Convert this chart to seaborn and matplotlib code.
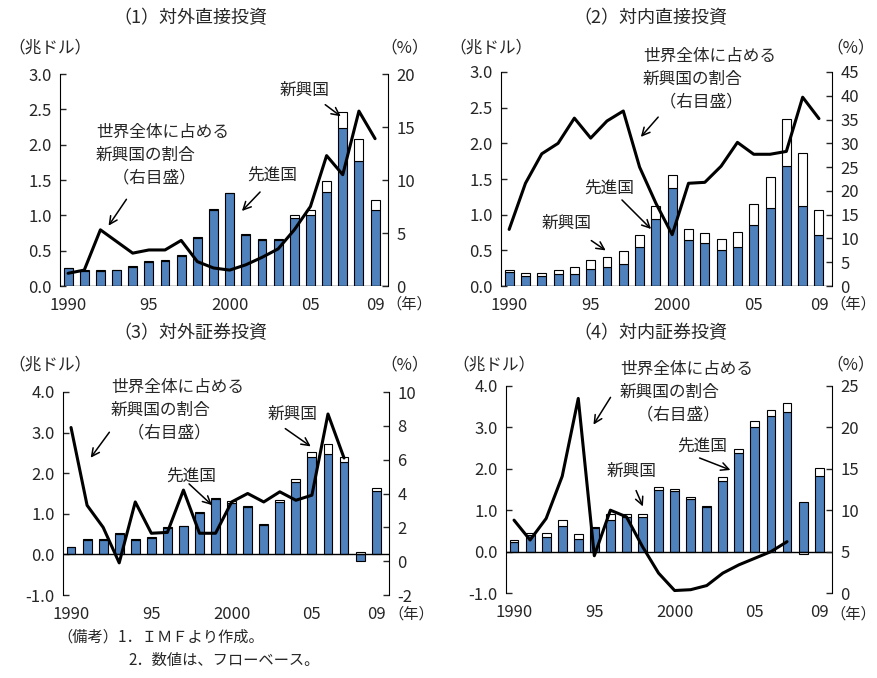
import numpy as np
import matplotlib
matplotlib.use('Agg')
import matplotlib.pyplot as plt
import seaborn as sns

sns.set_style('white')
plt.rcParams['font.family'] = ['Noto Sans CJK JP', 'DejaVu Sans']

# Data, 1990-2009
years = list(range(1990, 2010))
idx = np.arange(len(years))

# (1) outward FDI, trillion USD: advanced / emerging, share of emerging (%)
fdi_out_adv = [0.25, 0.21, 0.21, 0.22, 0.27, 0.34, 0.36, 0.43, 0.68, 1.08, 1.31, 0.72, 0.65, 0.65, 0.96, 1.00, 1.33, 2.23, 1.77, 1.08]
fdi_out_em = [0.01, 0.01, 0.01, 0.01, 0.01, 0.01, 0.01, 0.01, 0.01, 0.01, 0.01, 0.01, 0.01, 0.01, 0.05, 0.07, 0.16, 0.23, 0.31, 0.14]
fdi_out_share = [1.2, 1.5, 5.3, 4.2, 3.1, 3.4, 3.4, 4.3, 2.3, 1.7, 1.5, 2.0, 2.7, 3.5, 5.3, 7.5, 12.3, 10.5, 16.5, 13.9]

# (2) inward FDI
fdi_in_adv = [0.19, 0.14, 0.14, 0.17, 0.17, 0.24, 0.26, 0.31, 0.54, 0.94, 1.37, 0.64, 0.60, 0.50, 0.54, 0.85, 1.10, 1.68, 1.12, 0.71]
fdi_in_em = [0.04, 0.04, 0.04, 0.06, 0.10, 0.12, 0.15, 0.18, 0.17, 0.18, 0.18, 0.16, 0.15, 0.16, 0.22, 0.30, 0.43, 0.66, 0.74, 0.36]
fdi_in_share = [11.9, 21.6, 27.8, 30.0, 35.3, 31.1, 34.7, 36.8, 25.0, 17.4, 10.8, 21.6, 21.8, 25.2, 30.2, 27.7, 27.7, 28.3, 39.7, 35.2]

# (3) outward portfolio
pf_out_adv = [0.17, 0.35, 0.35, 0.50, 0.35, 0.41, 0.64, 0.69, 1.01, 1.37, 1.27, 1.16, 0.72, 1.29, 1.79, 2.39, 2.48, 2.27, -0.17, 1.56]
pf_out_em = [0.02, 0.02, 0.02, 0.02, 0.02, 0.02, 0.03, 0.02, 0.03, 0.02, 0.04, 0.03, 0.02, 0.06, 0.06, 0.12, 0.24, 0.12, 0.07, 0.08]
pf_out_share = [7.9, 3.3, 2.0, -0.1, 3.5, 1.65, 1.7, 4.2, 1.65, 1.65, 3.5, 4.0, 3.5, 4.1, 3.6, 3.9, 8.7, 6.1, np.nan, np.nan]

# (4) inward portfolio
pf_in_adv = [0.24, 0.40, 0.36, 0.62, 0.31, 0.56, 0.76, 0.84, 0.83, 1.50, 1.47, 1.27, 1.08, 1.70, 2.39, 3.01, 3.27, 3.37, 1.20, 1.82]
pf_in_em = [0.04, 0.05, 0.10, 0.14, 0.12, 0.04, 0.14, 0.08, 0.07, 0.05, 0.05, 0.06, 0.03, 0.09, 0.10, 0.14, 0.16, 0.22, -0.06, 0.20]
pf_in_share = [8.8, 6.4, 9.0, 14.1, 23.5, 4.5, 10.0, 9.2, 5.6, 2.4, 0.3, 0.4, 0.9, 2.4, 3.4, 4.2, 5.0, 6.2, np.nan, np.nan]

xtick_pos = [0, 5, 10, 15, 19]
xtick_labels = ['1990', '95', '2000', '05', '09']

W, H = 878, 678
BLUE = '#4F81BD'
FS = 12


def fx(x, y):
    return (x / W, 1 - y / H)


def panel(rect, adv, em, share, ylim, yticks, yfmt, rlim, rticks, title, title_xy):
    ax = fig.add_axes(rect)
    sns.barplot(x=idx, y=adv, ax=ax, color=BLUE, saturation=1, width=0.55,
                edgecolor='black', linewidth=0.8, zorder=2)
    adv_a = np.array(adv)
    em_a = np.array(em)
    bottom = np.where(np.sign(adv_a) == np.sign(em_a), adv_a, 0)
    ax.bar(idx, em_a, bottom=bottom, width=0.55, color='white',
           edgecolor='black', linewidth=0.8, zorder=2)
    ax.axhline(0, color='black', linewidth=1, zorder=3)
    ax.set_xlim(-0.5, 19.8)
    ax.set_ylim(*ylim)
    ax.set_yticks(yticks)
    ax.set_yticklabels([yfmt % v for v in yticks], fontsize=FS)
    ax.set_xticks(xtick_pos)
    ax.set_xticklabels(xtick_labels, fontsize=FS)
    ax.set_xlabel('')
    ax.set_ylabel('')
    ax.tick_params(axis='y', direction='in', length=4, width=1, pad=6)
    ax.tick_params(axis='x', length=0, pad=8)
    for s in ['top', 'bottom', 'right']:
        ax.spines[s].set_visible(False)
    ax.spines['left'].set_color('black')

    ax2 = ax.twinx()
    sns.lineplot(x=idx, y=share, ax=ax2, color='black', linewidth=2.2)
    ax2.set_ylim(*rlim)
    ax2.set_yticks(rticks)
    ax2.set_yticklabels([str(v) for v in rticks], fontsize=FS)
    ax2.set_ylabel('')
    ax2.tick_params(axis='y', direction='in', length=4, width=1, pad=6)
    for s in ['top', 'bottom', 'left']:
        ax2.spines[s].set_visible(False)
    ax2.spines['right'].set_color('black')
    ax2.set_xlim(-0.5, 19.8)

    fig.text(*fx(*title_xy), title, fontsize=13, ha='center', va='center')
    return ax2


def note(ax, text, txy, start, tip, ha='left'):
    ax.annotate('', xy=fx(*tip), xycoords='figure fraction',
                xytext=fx(*start), textcoords='figure fraction',
                arrowprops=dict(arrowstyle='->', color='black', lw=1.1,
                                mutation_scale=14),
                annotation_clip=False)
    fig.text(*fx(*txy), text, fontsize=FS, ha=ha, va='center', linespacing=1.45)


fig = plt.figure(figsize=(W / 100, H / 100), dpi=100)

share_txt = '世界全体に占める\n新興国の割合\n　（右目盛）'

# (1)
a1 = panel([60 / W, 1 - 286 / H, 328 / W, 212 / H], fdi_out_adv, fdi_out_em, fdi_out_share,
           (0, 3.0), [0, 0.5, 1.0, 1.5, 2.0, 2.5, 3.0], '%.1f',
           (0, 20), [0, 5, 10, 15, 20], '（1）対外直接投資', (190, 18))
note(a1, share_txt, (96, 155), (128, 197), (107, 228))
note(a1, '先進国', (247, 175), (262, 190), (240, 213))
note(a1, '新興国', (280, 90), (323, 103), (343, 118))

# (2)
a2 = panel([501 / W, 1 - 286 / H, 331 / W, 214 / H], fdi_in_adv, fdi_in_em, fdi_in_share,
           (0, 3.0), [0, 0.5, 1.0, 1.5, 2.0, 2.5, 3.0], '%.1f',
           (0, 45), list(range(0, 50, 5)), '（2）対内直接投資', (650, 18))
note(a2, share_txt, (643, 79), (660, 115), (639, 139))
note(a2, '先進国', (584, 188), (620, 198), (653, 231))
note(a2, '新興国', (542, 223), (589, 239), (608, 252))

# (3)
a3 = panel([63 / W, 1 - 595 / H, 326 / W, 203 / H], pf_out_adv, pf_out_em, pf_out_share,
           (-1.0, 4.0), [-1.0, 0.0, 1.0, 2.0, 3.0, 4.0], '%.1f',
           (-2, 10), [-2, 0, 2, 4, 6, 8, 10], '（3）対外証券投資', (190, 333))
note(a3, share_txt, (111, 410), (111, 430), (89, 460))
note(a3, '先進国', (166, 476), (187, 482), (214, 507))
note(a3, '新興国', (268, 414), (283, 427), (313, 448))

# (4)
a4 = panel([506 / W, 1 - 593 / H, 326 / W, 207 / H], pf_in_adv, pf_in_em, pf_in_share,
           (-1.0, 4.0), [-1.0, 0.0, 1.0, 2.0, 3.0, 4.0], '%.1f',
           (0, 25), [0, 5, 10, 15, 20, 25], '（4）対内証券投資', (650, 333))
note(a4, share_txt, (620, 392), (612, 395), (592, 427))
note(a4, '先進国', (677, 446), (697, 457), (733, 471))
note(a4, '新興国', (607, 471), (635, 488), (644, 509))

# unit labels
for x, y in [(8, 48), (449, 48), (8, 365), (452, 365)]:
    fig.text(*fx(x, y), '（兆ドル）', fontsize=FS, ha='left', va='center')
for x, y in [(380, 48), (826, 48), (380, 365), (826, 365)]:
    fig.text(*fx(x, y), '（%）', fontsize=FS, ha='left', va='center')
for x, y in [(386, 304), (830, 304), (388, 614), (830, 614)]:
    fig.text(*fx(x, y), '（年）', fontsize=11, ha='left', va='center')

fig.text(*fx(57, 637), '（備考）1．ＩＭＦより作成。', fontsize=11, ha='left', va='center')
fig.text(*fx(128, 660), '2．数値は、フローベース。', fontsize=11, ha='left', va='center')

plt.savefig('out.png', dpi=100)
plt.close()
